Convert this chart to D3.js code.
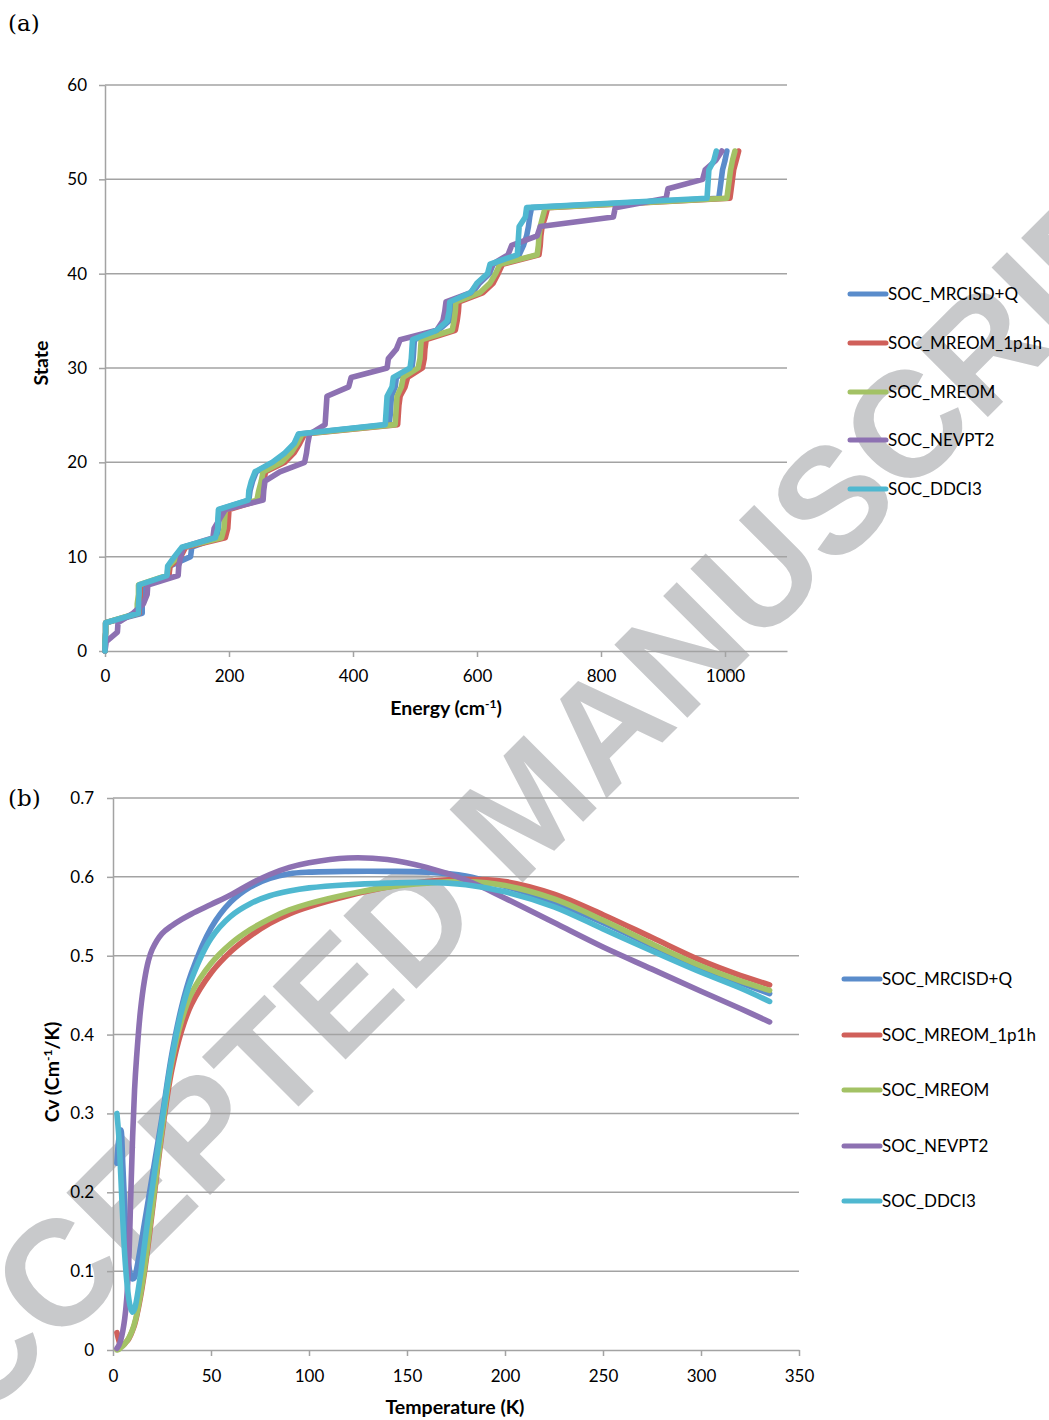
<!DOCTYPE html>
<html>
<head>
<meta charset="utf-8">
<script src="https://cdn.jsdelivr.net/npm/d3@7"></script>
<style>
  html, body { margin: 0; padding: 0; background: #ffffff; }
  svg { display: block; }
</style>
</head>
<body>
<script>
// ---------------- DATA ----------------
const seriesNames = ["SOC_MRCISD+Q", "SOC_MREOM_1p1h", "SOC_MREOM", "SOC_NEVPT2", "SOC_DDCI3"];
const seriesColors = ["#5a8ccb", "#d0605a", "#a3c265", "#8d71b2", "#4fb8d0"];

// Panel (a): state index vs energy (cm-1)
const states = [0,1,2,3,4,5,6,7,8,9,10,11,12,13,14,15,16,17,18,19,20,21,22,23,24,25,26,27,28,29,30,31,32,33,34,35,36,37,38,39,40,41,42,43,44,45,46,47,48,49,50,51,52,53];
const energyMRCISDQ = [0,0,1,1, 60,60,61,61, 103,104, 138,140, 180,183,184,185, 232,234,238,244, 272,292,306,313, 458,460,461,462, 468,470, 495,497,498,499, 538,555,558,560, 593,604,620,626, 668,675,680,683, 685,688, 990,992,994,996, 1000,1003];
const energyMREOM1p1h = [0,0,1,1, 55,55,57,57, 103,105, 122,130, 194,198,199,200, 250,252,256,259, 290,305,314,322, 472,473,474,476, 484,488, 512,515,516,518, 565,568,570,571, 610,626,634,641, 700,702,703,705, 710,714, 1008,1010,1012,1014, 1018,1022];
const energyMREOM = [0,0,1,1, 52,52,54,54, 100,102, 118,126, 188,192,193,194, 245,248,252,255, 285,300,310,318, 468,469,470,471, 478,481, 505,508,509,510, 560,563,565,566, 605,621,630,637, 697,699,700,702, 706,710, 1003,1005,1007,1009, 1012,1016];
const energyNEVPT2 = [0,2,20,21, 45,62,68,69, 118,119, 122,126, 174,176,185,194, 255,256,258,282, 322,325,327,330, 355,356,357,358, 393,397, 455,457,470,476, 535,545,548,550, 590,602,618,625, 650,656,697,702, 820,823, 905,908, 964,968, 985,995];
const energyDDCI3 = [0,0,1,1, 54,54,55,55, 100,101, 112,124, 178,182,182,183, 231,232,236,242, 270,290,305,312, 452,453,454,455, 463,465, 492,494,495,496, 535,552,555,556, 590,600,617,621, 665,666,667,668, 678,680, 971,972,973,974, 982,986];

const energyTicks = [0, 200, 400, 600, 800, 1000];
const stateTicks = [0, 10, 20, 30, 40, 50, 60];

// Panel (b): heat capacity vs temperature
const temperature = [2,3,4,5,6,7,8,9,10,11,12,14,16,18,20,25,30,35,40,50,60,70,80,90,100,120,140,160,180,200,225,250,275,300,320,335];
const cvMRCISDQ = [0.237,0.268,0.279,0.235,0.180,0.135,0.108,0.095,0.090,0.092,0.102,0.130,0.160,0.190,0.220,0.295,0.375,0.435,0.478,0.535,0.568,0.587,0.598,0.604,0.606,0.607,0.607,0.606,0.601,0.588,0.568,0.542,0.513,0.485,0.466,0.452];
const cvMREOM1p1h = [0.022,0.012,0.006,0.006,0.008,0.011,0.014,0.019,0.025,0.032,0.042,0.067,0.098,0.135,0.175,0.275,0.355,0.405,0.438,0.478,0.505,0.525,0.541,0.553,0.562,0.576,0.587,0.594,0.597,0.594,0.578,0.552,0.523,0.494,0.475,0.463];
const cvMREOM = [0.000,0.001,0.003,0.005,0.008,0.011,0.015,0.020,0.026,0.034,0.044,0.070,0.102,0.140,0.180,0.280,0.365,0.418,0.452,0.490,0.515,0.533,0.547,0.558,0.566,0.578,0.587,0.592,0.594,0.589,0.572,0.545,0.515,0.487,0.468,0.456];
const cvNEVPT2 = [0.002,0.006,0.013,0.024,0.040,0.065,0.110,0.190,0.270,0.330,0.370,0.430,0.468,0.493,0.508,0.528,0.538,0.546,0.553,0.565,0.577,0.591,0.603,0.612,0.618,0.624,0.622,0.612,0.596,0.573,0.542,0.511,0.483,0.455,0.433,0.416];
const cvDDCI3 = [0.300,0.270,0.220,0.165,0.120,0.088,0.066,0.053,0.048,0.052,0.063,0.095,0.132,0.170,0.205,0.290,0.370,0.430,0.470,0.522,0.550,0.566,0.576,0.582,0.586,0.590,0.592,0.593,0.590,0.581,0.562,0.534,0.506,0.479,0.459,0.442];

const tempTicks = [0, 50, 100, 150, 200, 250, 300, 350];
const cvTicks = [0, 0.1, 0.2, 0.3, 0.4, 0.5, 0.6, 0.7];

const energySeries = [energyMRCISDQ, energyMREOM1p1h, energyMREOM, energyNEVPT2, energyDDCI3];
const cvSeries = [cvMRCISDQ, cvMREOM1p1h, cvMREOM, cvNEVPT2, cvDDCI3];

// ---------------- DRAW ----------------
const W = 1049, H = 1420;
const FONT = "Lato, 'Open Sans', sans-serif";
const GRID = "#a3a3a3";
const LW = 5.6;

const svg = d3.select("body").append("svg").attr("width", W).attr("height", H);
svg.append("rect").attr("width", W).attr("height", H).attr("fill", "#ffffff");

// watermark (behind everything)
svg.append("text")
  .attr("transform", "translate(525,805) rotate(-45)")
  .attr("x", 0).attr("y", 53)
  .attr("text-anchor", "middle")
  .attr("font-family", "'Liberation Sans', Arial, sans-serif")
  .attr("font-weight", "bold")
  .attr("font-size", 150)
  .attr("fill", "#c8c9cb")
  .text("ACCEPTED MANUSCRIPT");

function panel(opts) {
  const { x, y, xTicks, yTicks, yFmt, xPad, yPad } = opts;
  const g = svg.append("g");
  g.selectAll("line.grid").data(yTicks.filter(d => d !== 0)).enter().append("line")
    .attr("x1", x.range()[0]).attr("x2", x.range()[1])
    .attr("y1", d => y(d)).attr("y2", d => y(d))
    .attr("stroke", GRID).attr("stroke-width", 1.5);
  const ax = g.append("g").attr("transform", `translate(0,${y(0)})`)
    .call(d3.axisBottom(x).tickValues(xTicks).tickSize(6).tickSizeOuter(0).tickPadding(xPad).tickFormat(d3.format("d")));
  const ay = g.append("g").attr("transform", `translate(${x(0)},0)`)
    .call(d3.axisLeft(y).tickValues(yTicks).tickSize(6).tickSizeOuter(0).tickPadding(yPad).tickFormat(yFmt));
  [ax, ay].forEach(a => {
    a.select(".domain").attr("stroke", GRID).attr("stroke-width", 1.5);
    a.selectAll(".tick line").attr("stroke", GRID).attr("stroke-width", 1.5);
    a.selectAll(".tick text").attr("fill", "#000").attr("font-family", FONT).attr("font-size", 17);
  });
  return g;
}

// ---- Panel (a)
const xA = d3.scaleLinear().domain([0, 1100]).range([105, 787]);
const yA = d3.scaleLinear().domain([0, 60]).range([651, 85]);
const gA = panel({ x: xA, y: yA, xTicks: energyTicks, yTicks: stateTicks, yFmt: d3.format("d"), xPad: 13, yPad: 12 });

const lineA = d3.line().x(d => xA(d[0])).y(d => yA(d[1]));
energySeries.forEach((arr, i) => {
  gA.append("path")
    .datum(arr.map((e, k) => [e, states[k]]))
    .attr("d", lineA)
    .attr("fill", "none")
    .attr("stroke", seriesColors[i])
    .attr("stroke-width", LW)
    .attr("stroke-linejoin", "round")
    .attr("stroke-linecap", "round");
});

const tA = svg.append("text").attr("x", 446).attr("y", 715).attr("text-anchor", "middle")
  .attr("font-family", FONT).attr("font-weight", "bold").attr("font-size", 19.5);
tA.append("tspan").text("Energy (cm");
tA.append("tspan").attr("dy", -7).attr("font-size", 12).text("-1");
tA.append("tspan").attr("dy", 7).text(")");

svg.append("text").attr("transform", "translate(48,363) rotate(-90)").attr("text-anchor", "middle")
  .attr("font-family", FONT).attr("font-weight", "bold").attr("font-size", 19.5).text("State");

// ---- Panel (b)
const xB = d3.scaleLinear().domain([0, 350]).range([113, 799]);
const yB = d3.scaleLinear().domain([0, 0.7]).range([1350, 798]);
const gB = panel({ x: xB, y: yB, xTicks: tempTicks, yTicks: cvTicks, yFmt: d => d === 0 ? "0" : d3.format(".1f")(d), xPad: 14, yPad: 13 });

const lineB = d3.line().x(d => xB(d[0])).y(d => yB(d[1])).curve(d3.curveCatmullRom.alpha(0.5));
cvSeries.forEach((arr, i) => {
  gB.append("path")
    .datum(arr.map((v, k) => [temperature[k], v]))
    .attr("d", lineB)
    .attr("fill", "none")
    .attr("stroke", seriesColors[i])
    .attr("stroke-width", LW)
    .attr("stroke-linejoin", "round")
    .attr("stroke-linecap", "round");
});

svg.append("text").attr("x", 455).attr("y", 1414).attr("text-anchor", "middle")
  .attr("font-family", FONT).attr("font-weight", "bold").attr("font-size", 19.5).text("Temperature (K)");

const cvT = svg.append("text").attr("transform", "translate(59,1072) rotate(-90)").attr("text-anchor", "middle")
  .attr("font-family", FONT).attr("font-weight", "bold").attr("font-size", 19.5);
cvT.append("tspan").text("Cv (Cm");
cvT.append("tspan").attr("dy", -7).attr("font-size", 12).text("-1");
cvT.append("tspan").attr("dy", 7).text("/K)");

// ---- Legends
function legend(x0, x1, ys) {
  const lg = svg.append("g");
  seriesNames.forEach((name, i) => {
    lg.append("line").attr("x1", x0).attr("x2", x1).attr("y1", ys[i]).attr("y2", ys[i])
      .attr("stroke", seriesColors[i]).attr("stroke-width", 5).attr("stroke-linecap", "round");
    lg.append("text").attr("x", x1 + 2).attr("y", ys[i]).attr("dy", "0.35em")
      .attr("font-family", FONT).attr("font-size", 17).attr("fill", "#000").text(name);
  });
}
legend(850, 886, [294, 343, 392, 440, 489]);
legend(844, 880, [979, 1035, 1090, 1146, 1201]);

// ---- Panel labels
svg.append("text").attr("x", 8).attr("y", 31).attr("font-family", "'DejaVu Serif', 'Liberation Serif', serif")
  .attr("font-size", 23).text("(a)");
svg.append("text").attr("x", 8).attr("y", 806).attr("font-family", "'DejaVu Serif', 'Liberation Serif', serif")
  .attr("font-size", 23).text("(b)");
</script>
</body>
</html>
